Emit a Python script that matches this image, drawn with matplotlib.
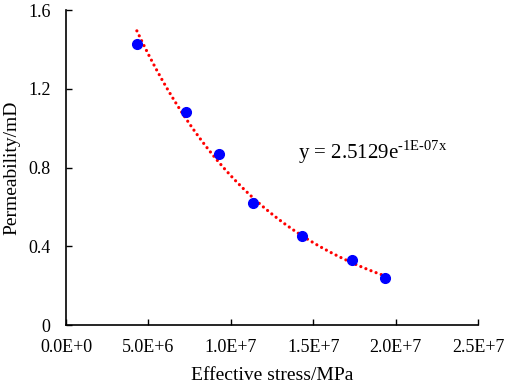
import matplotlib.pyplot as plt
import numpy as np

# data
stress = [4.3e6, 7.3e6, 9.3e6, 1.135e7, 1.435e7, 1.735e7, 1.935e7]
perm = [1.43, 1.08, 0.87, 0.62, 0.45, 0.33, 0.24]

xticks = [0, 5e6, 1e7, 1.5e7, 2e7, 2.5e7]
xtick_labels = ['0.0E+0', '5.0E+6', '1.0E+7', '1.5E+7', '2.0E+7', '2.5E+7']
yticks = [0, 0.4, 0.8, 1.2, 1.6]
ytick_labels = ['0', '0.4', '0.8', '1.2', '1.6']

plt.rcParams['font.family'] = ['Liberation Serif', 'DejaVu Serif']
plt.rcParams['mathtext.fontset'] = 'custom'
plt.rcParams['mathtext.rm'] = 'Liberation Serif'

fig = plt.figure(figsize=(5.05, 3.86), dpi=100)
ax = fig.add_axes([0.1307, 0.158, 0.8158, 0.816])

# exponential trendline (fit on log of the values)
x = np.array(stress)
b, a = np.polyfit(x, np.log(perm), 1)
xs = np.linspace(x.min(), x.max(), 200)
ax.plot(xs, np.exp(a) * np.exp(b * xs), color='red', linestyle=(0, (0.01, 1.7)),
        linewidth=2.3, dash_capstyle='round', zorder=2)

ax.plot(stress, perm, 'o', color='blue', markersize=7, zorder=3)

ax.text(1.41e7, 0.88, r'y = 2.5129e$^{\mathregular{\text{-}1E\text{-}07x}}$',
        fontsize=15, va='center', ha='left')

ax.set_xlim(0, 2.5e7)
ax.set_ylim(0, 1.6)
ax.set_xticks(xticks)
ax.set_xticklabels(xtick_labels)
ax.set_yticks(yticks)
ax.set_yticklabels(ytick_labels)
ax.tick_params(direction='in', labelsize=13, length=4, width=1)
ax.tick_params(axis='x', pad=10)
ax.tick_params(axis='y', pad=11)

for s in ['top', 'right']:
    ax.spines[s].set_visible(False)
for s in ['left', 'bottom']:
    ax.spines[s].set_linewidth(1.2)

ax.set_xlabel('Effective stress/MPa', fontsize=14, labelpad=8)
ax.set_ylabel('Permeability/mD', fontsize=14, labelpad=6)

fig.savefig('out.png', dpi=100)
